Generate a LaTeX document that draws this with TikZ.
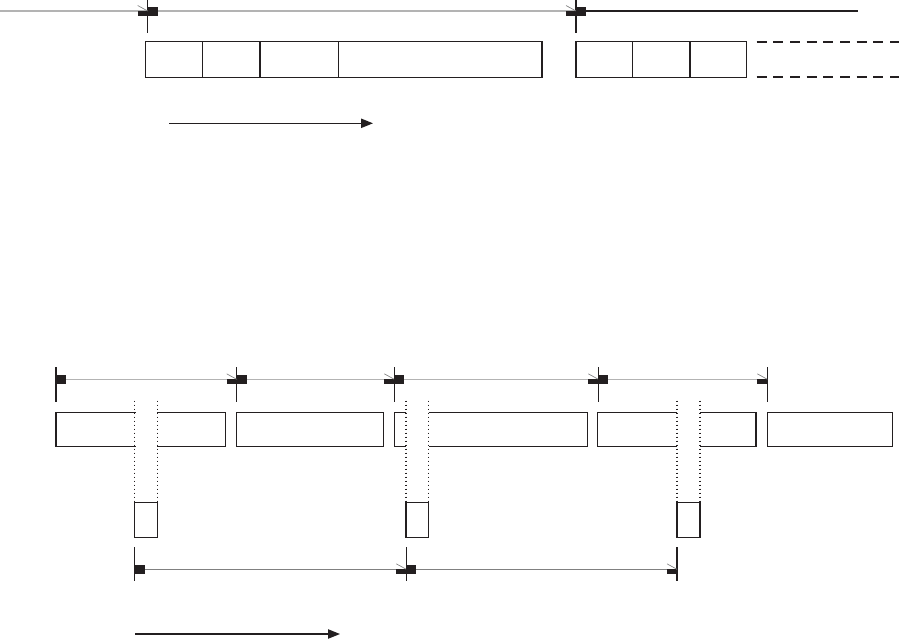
\documentclass[tikz,border=0pt]{standalone}
\usetikzlibrary{arrows.meta}
\definecolor{ink}{HTML}{231F20}
\definecolor{lgray}{HTML}{B3B3B3}
\definecolor{mgray}{HTML}{808080}
\tikzset{
  boxline/.style={draw=ink, line width=1.0pt},
  tickline/.style={draw=ink, line width=0.9pt},
  dimline/.style={draw=lgray, line width=0.9pt},
  dimlinedark/.style={draw=mgray, line width=0.9pt},
  dotline/.style={draw=ink, line width=0.9pt, dash pattern=on 1.2pt off 1.8pt},
  dashline/.style={draw=ink, line width=1.25pt, dash pattern=on 7.5pt off 5pt},
  flowarrow/.style={draw=ink, line width=0.9pt, -{Triangle[length=9pt,width=7pt]}},
  markfill/.style={fill=ink},
  slash/.style={draw=mgray, line width=0.5pt}
}
% markers: #1 = x, #2 = y of dimension line
\newcommand{\dmRight}[2]{\fill[markfill] (#1,#2-4.5) rectangle (#1+10,#2+4.5);}
\newcommand{\dmLeft}[2]{\fill[markfill] (#1-10,#2) rectangle (#1,#2+4.5);
  \draw[slash] (#1-10,#2-5.5) -- (#1,#2);}
\begin{document}
\begin{tikzpicture}[x=0.75pt,y=-0.75pt]
\useasboundingbox (0,0) rectangle (899,640);

% ---------------- top part ----------------
\draw[dimline] (0,11) -- (576,11);
\draw[draw=ink, line width=0.9pt] (576,11) -- (858,11);
\draw[tickline] (147.7,0) -- (147.7,33);
\draw[tickline] (576,0) -- (576,33);
\dmLeft{147.7}{11}\dmRight{147.7}{11}
\dmLeft{576}{11}\dmRight{576}{11}

\draw[boxline] (145.3,41.3) rectangle (542,77.3);
\draw[boxline] (202.7,41.3) -- (202.7,77.3);
\draw[boxline] (260,41.3) -- (260,77.3);
\draw[boxline] (338.3,41.3) -- (338.3,77.3);

\draw[boxline] (576,41.3) rectangle (746.7,77.3);
\draw[boxline] (632.7,41.3) -- (632.7,77.3);
\draw[boxline] (690,41.3) -- (690,77.3);
\draw[dashline] (756.7,41.8) -- (899,41.8);
\draw[dashline] (756.7,76.8) -- (899,76.8);

\coordinate (a1s) at (169,123.3);
\coordinate (a1e) at (373,123.3);
\draw[flowarrow] (a1s) -- (a1e);

% ---------------- middle part ----------------
\draw[dimline] (56,379.3) -- (767.3,379.3);
\foreach \x in {56,236.7,394.3,598.3,767.3}
  \draw[tickline] (\x,367) -- (\x,401.7);
\dmRight{56}{379.3}
\dmLeft{236.7}{379.3}\dmRight{236.7}{379.3}
\dmLeft{394.3}{379.3}\dmRight{394.3}{379.3}
\dmLeft{598.3}{379.3}\dmRight{598.3}{379.3}
\dmLeft{767.3}{379.3}

% frame boxes
\draw[boxline] (135.7,412.3) -- (56,412.3) -- (56,446.7) -- (135.7,446.7);
\draw[boxline] (157.3,412.3) -- (225.3,412.3) -- (225.3,446.7) -- (157.3,446.7);
\draw[boxline] (236.7,412.3) rectangle (383.3,446.7);
\draw[boxline] (406,412.3) -- (394.3,412.3) -- (394.3,446.7) -- (406,446.7);
\draw[boxline] (428.7,412.3) -- (587.3,412.3) -- (587.3,446.7) -- (428.7,446.7);
\draw[boxline] (676.7,412.3) -- (597.3,412.3) -- (597.3,446.7) -- (676.7,446.7);
\draw[boxline] (700,412.3) -- (756,412.3) -- (756,446.7) -- (700,446.7);
\draw[boxline] (767.3,412.3) rectangle (892.7,446.7);

% dotted guides and small boxes
\foreach \l/\r in {134.8/157.3, 406/428.7, 677/700}{
  \draw[dotline] (\l,400.5) -- (\l,502.3);
  \draw[dotline] (\r,400.5) -- (\r,502.3);
  \draw[boxline] (\l,502.3) rectangle (\r,537.3);
}

% ---------------- bottom part ----------------
\draw[dimlinedark] (134.8,569.3) -- (677,569.3);
\foreach \x in {134.8,406.3,677}
  \draw[tickline] (\x,547) -- (\x,580.7);
\dmRight{134.8}{569.3}
\dmLeft{406.3}{569.3}\dmRight{406.3}{569.3}
\dmLeft{677}{569.3}

\coordinate (a2s) at (135,634);
\coordinate (a2e) at (340,634);
\draw[flowarrow] (a2s) -- (a2e);
\end{tikzpicture}
\end{document}
